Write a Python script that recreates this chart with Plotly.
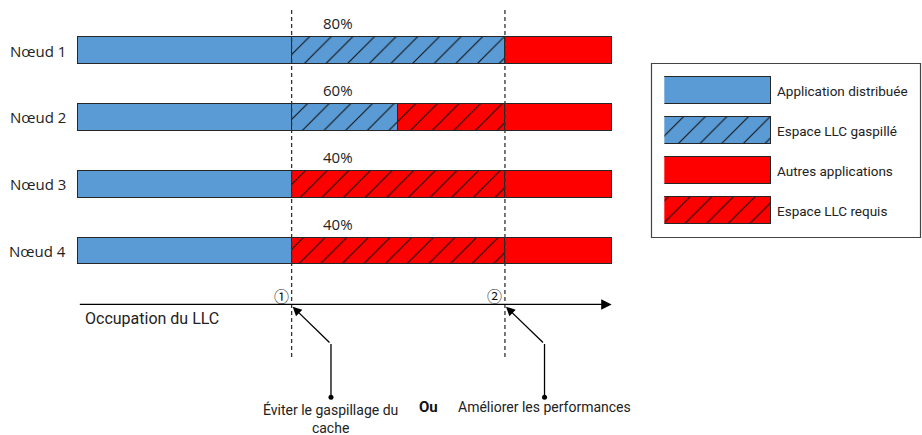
import plotly.graph_objects as go

# ---------------- data ----------------
nodes = ["Nœud 1", "Nœud 2", "Nœud 3", "Nœud 4"]
percent_labels = ["80%", "60%", "40%", "40%"]
app_distrib = [2, 2, 2, 2]      # Application distribuée (units of LLC)
llc_wasted = [2, 1, 0, 0]       # Espace LLC gaspillé
llc_required = [0, 1, 2, 2]     # Espace LLC requis
other_apps = [1, 1, 1, 1]       # Autres applications

legend_names = ["Application distribuée", "Espace LLC gaspillé",
                "Autres applications", "Espace LLC requis"]
axis_title = "Occupation du LLC"
markers = ["①", "②"]
left_note = "Éviter le gaspillage du<br>cache"
middle_note = "<b>Ou</b>"
right_note = "Améliorer les performances"

# ---------------- style ----------------
BLUE = "#5b9bd5"
RED = "#ff0000"
EDGE = "#262626"
FONT_MAIN = "Open Sans"
FONT_SMALL = "Roboto"
W, H = 922, 435


def nz(v):
    return [x if x else None for x in v]


def hatch(bg):
    return dict(shape="/", size=15.3, solidity=0.07, fgcolor="#111111",
                bgcolor=bg, fillmode="replace")


fig = go.Figure()

series = [
    ("Application distribuée", app_distrib, BLUE, None),
    ("Espace LLC gaspillé", llc_wasted, BLUE, hatch(BLUE)),
    ("Espace LLC requis", llc_required, RED, hatch(RED)),
    ("Autres applications", other_apps, RED, None),
]
for name, vals, col, pat in series:
    marker = dict(color=col, line=dict(color=EDGE, width=1.2))
    if pat:
        marker["pattern"] = pat
    fig.add_trace(go.Bar(y=nodes, x=nz(vals), orientation="h", name=name,
                         marker=marker, width=0.404, showlegend=False,
                         hoverinfo="skip", xaxis="x", yaxis="y"))

# custom legend drawn as a small bar subplot
leg_style = {
    "Application distribuée": (BLUE, None),
    "Espace LLC gaspillé": (BLUE, hatch(BLUE)),
    "Autres applications": (RED, None),
    "Espace LLC requis": (RED, hatch(RED)),
}
for name in legend_names:
    col, pat = leg_style[name]
    marker = dict(color=col, line=dict(color=EDGE, width=1.2))
    if pat:
        marker["pattern"] = pat
    fig.add_trace(go.Bar(y=[name], x=[1], orientation="h", marker=marker,
                         width=0.677, showlegend=False, hoverinfo="skip",
                         xaxis="x2", yaxis="y2"))

total = [a + b + c + d for a, b, c, d in zip(app_distrib, llc_wasted, llc_required, other_apps)]
split1 = app_distrib[0]
split2 = app_distrib[0] + llc_wasted[0] + llc_required[0]

ann = []
# node labels
for n in nodes:
    ann.append(dict(x=0, y=n, xref="x", yref="y", text=n, showarrow=False,
                    xanchor="right", xshift=-10,
                    font=dict(family=FONT_MAIN, size=15, color="#222")))
# percent labels
for n, p, a in zip(nodes, percent_labels, app_distrib):
    ann.append(dict(x=a, y=n, xref="x", yref="y", text=p, showarrow=False,
                    xanchor="left", xshift=29, yshift=27.5,
                    font=dict(family=FONT_MAIN, size=15, color="#222")))

AXIS_Y = 3.80
# axis arrow
ann.append(dict(x=max(total), y=AXIS_Y, ax=0, ay=AXIS_Y, xref="x", yref="y",
                axref="x", ayref="y", text="", showarrow=True, arrowhead=2,
                arrowsize=1.6, arrowwidth=1.3, arrowcolor="#000", standoff=0))
ann.append(dict(x=0, y=4.003, xref="x", yref="y", text=axis_title,
                showarrow=False, xanchor="left", xshift=5,
                font=dict(family=FONT_SMALL, size=16, color="#222")))
# circled numbers
for s, m in zip([split1, split2], markers):
    ann.append(dict(x=s, y=3.666, xref="x", yref="y", text=m, showarrow=False,
                    xshift=-10, font=dict(family="Noto Sans CJK JP", size=15, color="#111")))

# pointer arrows
TAIL_Y = 4.392
DOT_Y = 5.19
pointers = [(split1, 2.369), (split2, 4.371)]
shapes = []
for tip_x, tail_x in pointers:
    ann.append(dict(x=tip_x + 0.01, y=3.834, ax=tail_x, ay=TAIL_Y, xref="x", yref="y",
                    axref="x", ayref="y", text="", showarrow=True, arrowhead=2,
                    arrowsize=1.4, arrowwidth=1.3, arrowcolor="#000", standoff=0))
    shapes.append(dict(type="line", xref="x", yref="y", x0=tail_x, x1=tail_x,
                       y0=TAIL_Y, y1=DOT_Y, line=dict(color="#000", width=1.3)))

fig.add_trace(go.Scatter(x=[p[1] for p in pointers], y=[DOT_Y, DOT_Y], mode="markers",
                         marker=dict(color="#000", size=5), showlegend=False,
                         hoverinfo="skip", xaxis="x3", yaxis="y3"))

# dashed vertical lines
for s in [split1, split2]:
    shapes.append(dict(type="line", xref="x", yref="y", x0=s, x1=s, y0=-0.608, y1=4.594,
                       line=dict(color="#333", width=1.3, dash="4px,3px")))

# legend box
shapes.append(dict(type="rect", xref="paper", yref="paper",
                   x0=651.5 / W, x1=920.5 / W, y0=1 - 237.5 / H, y1=1 - 63.5 / H,
                   line=dict(color="#444", width=1.2)))

# bottom notes
ann.append(dict(x=2.362, y=5.50, xref="x", yref="y", text=left_note, showarrow=False,
                font=dict(family=FONT_SMALL, size=14, color="#222")))
ann.append(dict(x=3.28, y=5.34, xref="x", yref="y", text=middle_note, showarrow=False,
                font=dict(family=FONT_SMALL, size=15, color="#111")))
ann.append(dict(x=4.37, y=5.34, xref="x", yref="y", text=right_note, showarrow=False,
                font=dict(family=FONT_SMALL, size=14, color="#222")))

fig.update_layout(
    width=W, height=H, margin=dict(l=0, r=0, t=0, b=0),
    paper_bgcolor="white", plot_bgcolor="rgba(0,0,0,0)",
    barmode="stack", bargap=0,
    xaxis=dict(domain=[0, 1], range=[-0.734, 7.910], visible=False, fixedrange=True),
    yaxis=dict(domain=[0, 1], range=[5.7545, -0.7575], type="category",
               categoryorder="array", categoryarray=nodes, visible=False),
    xaxis2=dict(domain=[664.3 / W, 771 / W], range=[0, 1], visible=False, anchor="y2"),
    yaxis2=dict(domain=[1 - 230.75 / H, 1 - 71.05 / H], range=[3.5, -0.5], type="category",
                categoryorder="array", categoryarray=legend_names, anchor="x2",
                side="right", showgrid=False, zeroline=False, showline=False, ticks="",
                ticklabelstandoff=5,
                tickfont=dict(family=FONT_SMALL, size=13.5, color="#222")),
    xaxis3=dict(domain=[0, 1], range=[-0.734, 7.910], visible=False, overlaying="x"),
    yaxis3=dict(domain=[0, 1], range=[5.7545, -0.7575], visible=False, overlaying="y"),
    annotations=ann, shapes=shapes,
)

fig.write_html("out.html", config={"displayModeBar": False},
               post_script="document.body.style.margin='0';document.body.style.overflow='hidden';")
